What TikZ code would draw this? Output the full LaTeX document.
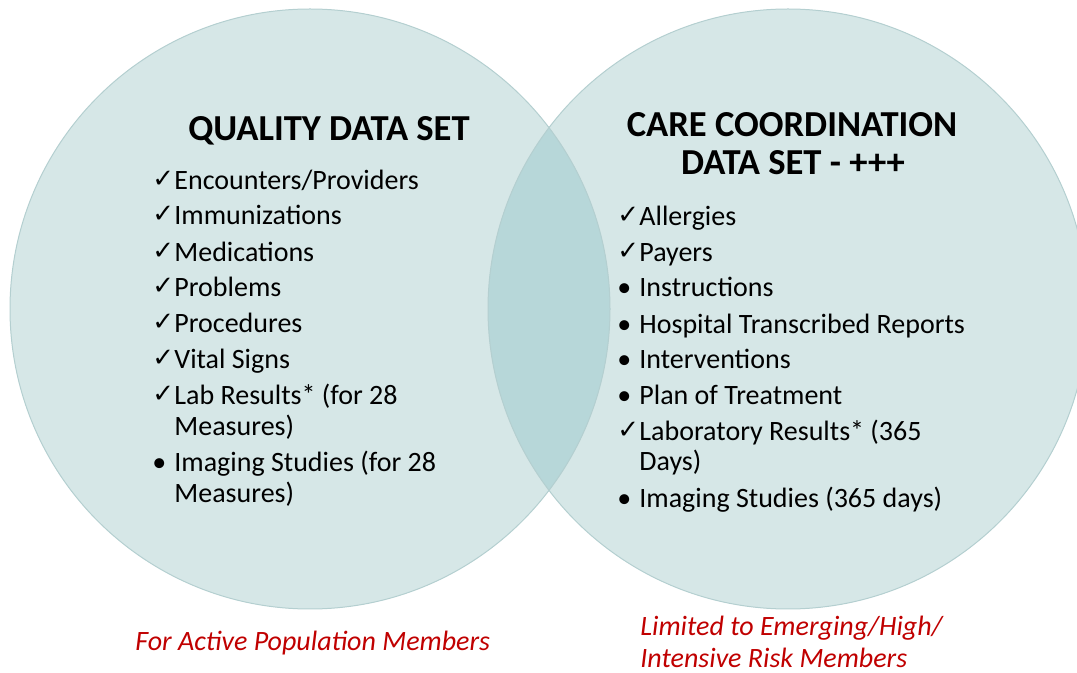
\documentclass[tikz,border=0pt]{standalone}
\usepackage{fontspec}
\setmainfont{Carlito}
\newfontfamily\symfont{DejaVu Sans}
\definecolor{circfill}{HTML}{D6E7E7}
\definecolor{lensfill}{HTML}{B7D7D9}
\definecolor{circline}{HTML}{B4CFD0}
\definecolor{redtxt}{HTML}{C00000}
\newcommand\ckm{\makebox[11pt][l]{\raisebox{1pt}{\symfont\fontsize{13}{13}\selectfont ✓}}}
\newcommand\bum{\makebox[11pt][l]{•}}
\begin{document}
\begin{tikzpicture}[x=0.5pt,y=-0.5pt,
  item/.style={anchor=base west, inner sep=0pt, font=\fontsize{14}{16}\selectfont},
  ttl/.style={anchor=base, inner sep=0pt, font=\fontsize{18.3}{21}\selectfont\bfseries},
  note/.style={anchor=base west, inner sep=0pt, text=redtxt, font=\fontsize{14}{16}\selectfont\itshape}]
\useasboundingbox (0,0) rectangle (1077,673);
% circles
\fill[circfill] (310,309) circle[radius=300];
\fill[circfill] (788,309) circle[radius=300];
\begin{scope}
  \clip (310,309) circle[radius=300];
  \fill[lensfill] (788,309) circle[radius=300];
\end{scope}
\draw[circline, line width=0.5pt] (310,309) circle[radius=300];
\draw[circline, line width=0.5pt] (788,309) circle[radius=300];
% left
\node[ttl] (qt) at (329,141) {QUALITY DATA SET};
\node[item] (l1) at (152,190) {\ckm Encounters/Providers};
\node[item] (l2) at (152,225) {\ckm Immunizations};
\node[item] (l3) at (152,262) {\ckm Medications};
\node[item] (l4) at (152,297) {\ckm Problems};
\node[item] (l5) at (152,333) {\ckm Procedures};
\node[item] (l6) at (152,369) {\ckm Vital Signs};
\node[item] (l7) at (152,405) {\ckm Lab Results* (for 28};
\node[item] (l7b) at (174,436) {Measures)};
\node[item] (l8) at (152,472) {\bum Imaging Studies (for 28};
\node[item] (l8b) at (174,503) {Measures)};
% right
\node[ttl] (ct1) at (792,137) {CARE COORDINATION};
\node[ttl] (ct2) at (793,175) {DATA SET - +++};
\node[item] (r1) at (617,226) {\ckm Allergies};
\node[item] (r2) at (617,262) {\ckm Payers};
\node[item] (r3) at (617,297) {\bum Instructions};
\node[item] (r4) at (617,334) {\bum Hospital Transcribed Reports};
\node[item] (r5) at (617,369) {\bum Interventions};
\node[item] (r6) at (617,405) {\bum Plan of Treatment};
\node[item] (r7) at (617,441) {\ckm Laboratory Results* (365};
\node[item] (r7b) at (639,471) {Days)};
\node[item] (r8) at (617,508) {\bum Imaging Studies (365 days)};
% notes
\node[note] (n1) at (135,650) {For Active Population Members};
\node[note] (n2) at (640,636) {Limited to Emerging/High/};
\node[note] (n3) at (640,668) {Intensive Risk Members};
\end{tikzpicture}
\end{document}
